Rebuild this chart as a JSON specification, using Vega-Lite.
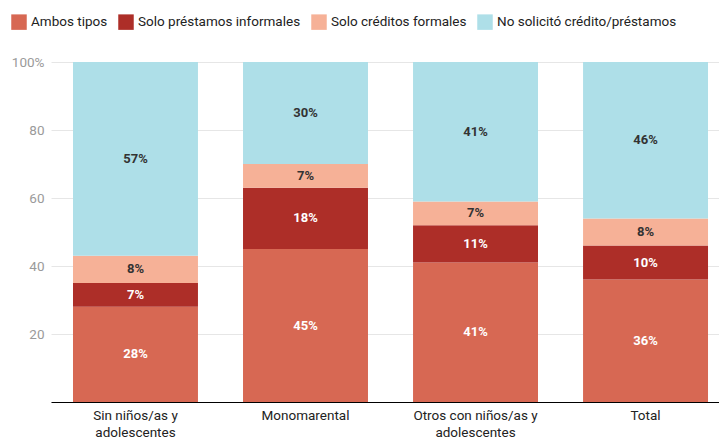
{
  "$schema": "https://vega.github.io/schema/vega-lite/v6.json",
  "autosize": {"type": "none"},
  "width": 668,
  "height": 340,
  "padding": {"left": 51, "top": 62, "right": 0, "bottom": 37},
  "background": "white",
  "config": {
    "font": "Roboto",
    "view": {"stroke": null}
  },
  "data": {
    "values": [
      {"grupo": "Sin niños/as y adolescentes", "tipo": "Ambos tipos", "orden": 1, "valor": 28},
      {"grupo": "Sin niños/as y adolescentes", "tipo": "Solo préstamos informales", "orden": 2, "valor": 7},
      {"grupo": "Sin niños/as y adolescentes", "tipo": "Solo créditos formales", "orden": 3, "valor": 8},
      {"grupo": "Sin niños/as y adolescentes", "tipo": "No solicitó crédito/préstamos", "orden": 4, "valor": 57},
      {"grupo": "Monomarental", "tipo": "Ambos tipos", "orden": 1, "valor": 45},
      {"grupo": "Monomarental", "tipo": "Solo préstamos informales", "orden": 2, "valor": 18},
      {"grupo": "Monomarental", "tipo": "Solo créditos formales", "orden": 3, "valor": 7},
      {"grupo": "Monomarental", "tipo": "No solicitó crédito/préstamos", "orden": 4, "valor": 30},
      {"grupo": "Otros con niños/as y adolescentes", "tipo": "Ambos tipos", "orden": 1, "valor": 41},
      {"grupo": "Otros con niños/as y adolescentes", "tipo": "Solo préstamos informales", "orden": 2, "valor": 11},
      {"grupo": "Otros con niños/as y adolescentes", "tipo": "Solo créditos formales", "orden": 3, "valor": 7},
      {"grupo": "Otros con niños/as y adolescentes", "tipo": "No solicitó crédito/préstamos", "orden": 4, "valor": 41},
      {"grupo": "Total", "tipo": "Ambos tipos", "orden": 1, "valor": 36},
      {"grupo": "Total", "tipo": "Solo préstamos informales", "orden": 2, "valor": 10},
      {"grupo": "Total", "tipo": "Solo créditos formales", "orden": 3, "valor": 8},
      {"grupo": "Total", "tipo": "No solicitó crédito/préstamos", "orden": 4, "valor": 46}
    ]
  },
  "transform": [
    {"stack": "valor", "groupby": ["grupo"], "sort": [{"field": "orden", "order": "ascending"}], "as": ["y0", "y1"]},
    {"calculate": "(datum.y0 + datum.y1) / 2", "as": "ymid"},
    {"calculate": "datum.valor + '%'", "as": "etiqueta"}
  ],
  "encoding": {
    "x": {
      "field": "grupo",
      "type": "nominal",
      "sort": ["Sin niños/as y adolescentes", "Monomarental", "Otros con niños/as y adolescentes", "Total"],
      "scale": {"paddingInner": 0.265, "paddingOuter": 0.097, "align": 0.667},
      "axis": {
        "title": null,
        "labelAngle": 0,
        "labelFontSize": 13.5,
        "labelColor": "#222222",
        "labelPadding": 6,
        "labelLineHeight": 17,
        "ticks": false,
        "domainColor": "#000000",
        "domainWidth": 1,
        "labelExpr": "datum.value == 'Sin niños/as y adolescentes' ? ['Sin niños/as y', 'adolescentes'] : datum.value == 'Otros con niños/as y adolescentes' ? ['Otros con niños/as y', 'adolescentes'] : datum.value"
      }
    }
  },
  "layer": [
    {
      "mark": {"type": "bar"},
      "encoding": {
        "y": {
          "field": "y0",
          "type": "quantitative",
          "scale": {"domain": [0, 100], "nice": false},
          "axis": {
            "title": null,
            "values": [0, 20, 40, 60, 80, 100],
            "labelExpr": "datum.value == 100 ? '100%' : datum.value == 0 ? '' : datum.label",
            "labelColor": "#9a9a9a",
            "labelFontSize": 13.5,
            "labelPadding": 7,
            "domain": false,
            "ticks": false,
            "gridColor": "#e6e6e6",
            "gridWidth": 1
          }
        },
        "y2": {"field": "y1"},
        "color": {
          "field": "tipo",
          "type": "nominal",
          "sort": ["Ambos tipos", "Solo préstamos informales", "Solo créditos formales", "No solicitó crédito/préstamos"],
          "scale": {
            "domain": ["Ambos tipos", "Solo préstamos informales", "Solo créditos formales", "No solicitó crédito/préstamos"],
            "range": ["#D76853", "#AD2E28", "#F6B197", "#AEDFE8"]
          },
          "legend": {
            "title": null,
            "orient": "none",
            "legendX": -40,
            "legendY": -48,
            "direction": "horizontal",
            "symbolType": "square",
            "symbolSize": 240,
            "symbolStrokeWidth": 0,
            "symbolOpacity": 1,
            "labelFontSize": 13.5,
            "labelColor": "#222222",
            "labelOffset": 4,
            "labelLimit": 0,
            "columnPadding": 10
          }
        }
      }
    },
    {
      "mark": {"type": "text", "fontSize": 13, "fontWeight": "bold", "baseline": "middle", "align": "center"},
      "encoding": {
        "y": {"field": "ymid", "type": "quantitative"},
        "text": {"field": "etiqueta"},
        "color": {
          "condition": {"test": "datum.orden <= 2", "value": "#ffffff"},
          "value": "#333333"
        }
      }
    }
  ]
}
